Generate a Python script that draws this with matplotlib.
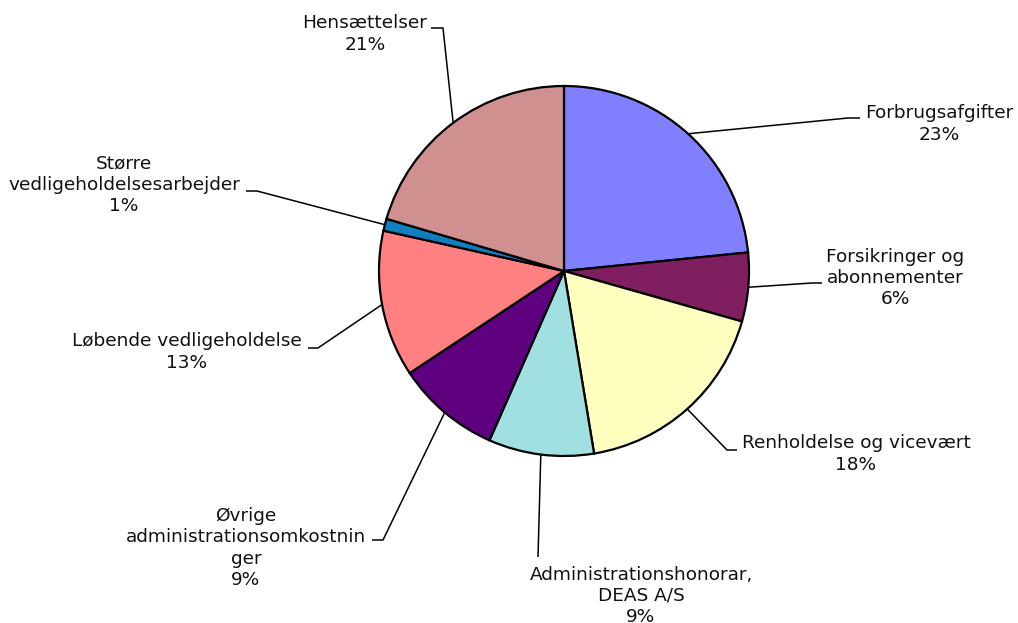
# Pie chart of budget shares with leader-line labels

import numpy as np
import matplotlib
matplotlib.use("Agg")
import matplotlib.pyplot as plt

# data
CATEGORIES = [
    "Forbrugsafgifter",
    "Forsikringer og\nabonnementer",
    "Renholdelse og vicevært",
    "Administrationshonorar,\nDEAS A/S",
    "Øvrige\nadministrationsomkostnin\nger",
    "Løbende vedligeholdelse",
    "Større\nvedligeholdelsesarbejder",
    "Hensættelser",
]
SHARES = [23.4, 6.0, 18.0, 9.2, 9.1, 12.8, 1.05, 20.45]
PCT_LABELS = ["23%", "6%", "18%", "9%", "9%", "13%", "1%", "21%"]
COLORS = ["#8080FF", "#7F1F5F", "#FFFFC0", "#A0E0E0",
          "#5F007F", "#FF8080", "#0F7FC0", "#D09090"]

# layout in pixels (y measured from top)
W, H = 1018, 623
CX, CY, R = 564, 271, 185
# label centre, elbow point, end of short horizontal tick
LABEL_POS = [(939, 124), (895, 278), (856, 454), (641, 596),
             (246, 548), (187, 352), (124, 185), (365, 34)]
ELBOW = [(848, 118), (812, 283), (727, 450), (538, 557),
         (383, 540), (318, 348), (257, 191), (443, 28)]
TICK_END = [(860, 118), (822, 283), (737, 450), (538, 557),
            (372, 540), (308, 348), (246, 191), (431, 28)]


def fy(y):
    return H - y


fig = plt.figure(figsize=(W / 100, H / 100), dpi=100)
ax = fig.add_axes([0, 0, 1, 1])

wedges, _ = ax.pie(SHARES, colors=COLORS, startangle=90, counterclock=False,
                   center=(CX, fy(CY)), radius=R,
                   wedgeprops=dict(edgecolor="black", linewidth=1.6))
ax.set_xlim(0, W)
ax.set_ylim(0, H)
ax.set_aspect("equal")
ax.axis("off")

for w, lab, pct, pos, elb, tick in zip(wedges, CATEGORIES, PCT_LABELS,
                                       LABEL_POS, ELBOW, TICK_END):
    mid = np.deg2rad((w.theta1 + w.theta2) / 2)
    sx = CX + R * np.cos(mid)
    sy = fy(CY) + R * np.sin(mid)
    ax.plot([sx, elb[0], tick[0]], [sy, fy(elb[1]), fy(tick[1])],
            color="black", linewidth=1.1, solid_capstyle="butt")
    ax.text(pos[0], fy(pos[1]), lab + "\n" + pct, ha="center", va="center",
            multialignment="center", fontsize=13.3, linespacing=1.22,
            color="#111111")

fig.savefig("out.png", dpi=100)
